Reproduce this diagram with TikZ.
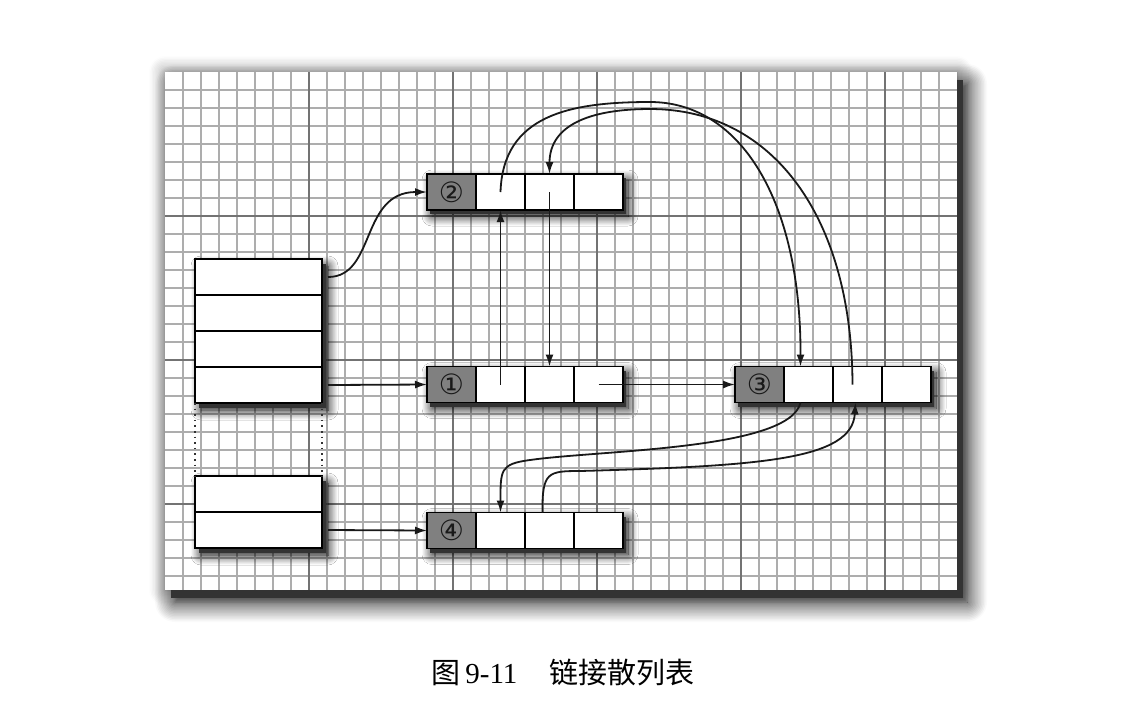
\documentclass[tikz,border=0pt]{standalone}
\usepackage{fontspec}
\setmainfont{Liberation Serif}
\newfontfamily\cjkfont{Noto Sans CJK SC}
\newfontfamily\symfont{DejaVu Sans}
\usetikzlibrary{shadows.blur,arrows.meta,calc}

% one entry of the linked list: grey head cell plus three slots
\newcommand\hashentry[4]{%
  \node[entrybox] (#1) at ({#2+98},#3) {};
  \node[headcell, anchor=west] (#1h) at ({#2},#3) {#4};
  \node[slotcell, anchor=west] (#1a) at (#1h.east) {};
  \node[slotcell, anchor=west] (#1b) at (#1a.east) {};
  \node[slotcell, anchor=west] (#1c) at (#1b.east) {};
}

\begin{document}
\begin{tikzpicture}[x=0.5pt, y=-0.5pt,
  minorline/.style={draw=black!32, line width=0.55pt},
  majorline/.style={draw=black!55, line width=0.8pt},
  darkcore/.style={preaction={fill=black!80, transform canvas={shift={(#1)}}}},
  entrybox/.style={draw=black, line width=0.8pt, fill=white, inner sep=0pt, outer sep=0pt,
    minimum width=98pt, minimum height=18pt,
    blur shadow={shadow xshift=2.5pt, shadow yshift=-3pt, shadow blur radius=5pt, shadow opacity=100, shadow blur steps=12},
    darkcore={1.6pt,-2.2pt}},
  headcell/.style={draw=black, line width=0.8pt, fill=black!50, text=black!90, inner sep=0pt, outer sep=0pt,
    minimum width=24.5pt, minimum height=18pt, font=\symfont\fontsize{14}{14}\selectfont},
  slotcell/.style={draw=black, line width=0.8pt, fill=white, inner sep=0pt, outer sep=0pt,
    minimum width=24.5pt, minimum height=18pt},
  tablebox/.style={draw=black, line width=0.8pt, fill=white, inner sep=0pt, outer sep=0pt,
    minimum width=63.5pt,
    blur shadow={shadow xshift=3pt, shadow yshift=-3.5pt, shadow blur radius=5pt, shadow opacity=100, shadow blur steps=12},
    darkcore={2pt,-2.5pt}},
  rowcell/.style={draw=black, line width=0.7pt, fill=white, inner sep=0pt, outer sep=0pt,
    minimum width=63.5pt, minimum height=18pt},
  link/.style={draw=black!90, line width=0.9pt, -{Latex[length=6pt,width=4pt]}},
  gap/.style={draw=black!80, line width=0.8pt, dotted}
]
\useasboundingbox (0,0) rectangle (1136,720);

% graph paper with its shadow
\path[blur shadow={shadow xshift=0pt, shadow yshift=0pt, shadow blur radius=8pt, shadow opacity=45, shadow blur steps=12}]
  (165,72) rectangle (957,590);
\path[fill=white, blur shadow={shadow xshift=5pt, shadow yshift=-6pt, shadow blur radius=10pt, shadow opacity=100, shadow blur steps=14},
  darkcore={3pt,-4pt}]
  (165,72) rectangle (957,590);
\foreach \k in {1,...,43} { \draw[minorline] ({165+18*\k},72) -- ({165+18*\k},590); }
\foreach \k in {1,...,28} { \draw[minorline] (165,{72+18*\k}) -- (957,{72+18*\k}); }
\foreach \k in {8,16,24,32,40} { \draw[majorline] ({165+18*\k},72) -- ({165+18*\k},590); }
\foreach \k in {8,16,24} { \draw[majorline] (165,{72+18*\k}) -- (957,{72+18*\k}); }

% bucket array
\node[tablebox, minimum height=72pt] (tab) at (258.5,331) {};
\node[rowcell] (r1) at (258.5,277) {};
\node[rowcell] (r2) at (258.5,313) {};
\node[rowcell] (r3) at (258.5,349) {};
\node[rowcell] (r4) at (258.5,385) {};
\node[tablebox, minimum height=36pt] (tabb) at (258.5,512) {};
\node[rowcell] (r5) at (258.5,494) {};
\node[rowcell] (r6) at (258.5,530) {};
\draw[gap] (tab.south west) -- (tabb.north west);
\draw[gap] (tab.south east) -- (tabb.north east);

% entries
\hashentry{n2}{427}{192}{②}
\hashentry{n1}{427}{384.5}{①}
\hashentry{n3}{735}{384.5}{③}
\hashentry{n4}{427}{530.5}{④}

% ports on the entries
\coordinate (p3top) at ($(n3a.north)+(-8,0)$);
\coordinate (p3bot) at ($(n3a.south)+(-8,0)$);
\coordinate (s3) at ($(n3b.center)+(-5,0)$);
\coordinate (q3) at ($(n3b.south)+(-2,0)$);
\coordinate (s4) at ($(n4b.north)+(-7,0)$);

% bucket links
\draw[link] ([xshift=3pt]r1.east) .. controls +(48,0) and +(-67,0) .. (n2h.west);
\draw[link] ([xshift=3pt]r4.east) -- (n1h.west);
\draw[link] ([xshift=3pt]r6.east) -- (n4h.west);

% chain links
\draw[link] (n1c.center) -- (n3h.west);
\draw[link] (n1a.center) -- (n2a.south);
\draw[link] (n2b.center) -- (n1b.north);
\draw[link] (n2a.center) .. controls (503,115) and (570,102) .. (650,102)
  .. controls (740,102) and (801,200) .. (p3top);
\draw[link] (s3) .. controls (852,220) and (775,109) .. (650,109)
  .. controls (590,109) and (549.5,125) .. (n2b.north);
\draw[link] (p3bot) .. controls (790,450) and (600,450) .. (530,460)
  .. controls (500,464) and (500.5,470) .. (n4a.north);
\draw[link] (s4) .. controls (542,472) and (548,471) .. (580,471)
  .. controls (760,466) and (852,460) .. (q3);

% caption
\node[anchor=base west, inner sep=0pt, font=\fontsize{14.5}{17}\selectfont] (caption) at (431,683)
  {{\cjkfont 图}\hspace{2.5pt}9-11\hspace{16pt}{\cjkfont 链接散列表}};
\end{tikzpicture}
\end{document}
